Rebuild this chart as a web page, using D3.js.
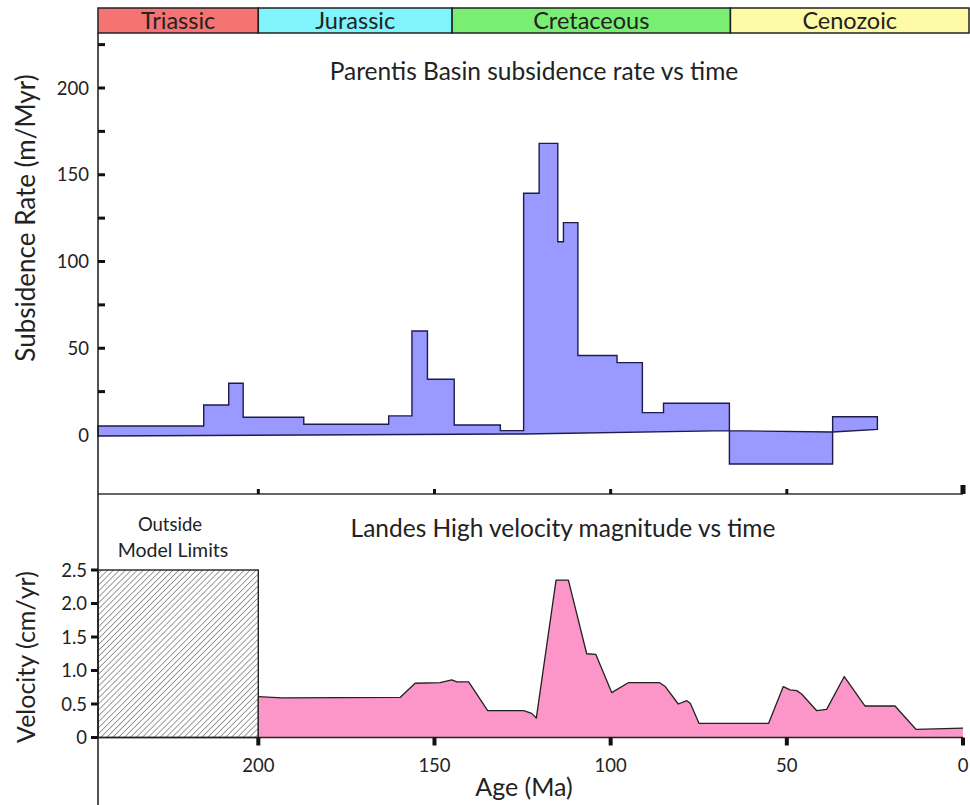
<!DOCTYPE html>
<html>
<head>
<meta charset="utf-8">
<script src="https://cdn.jsdelivr.net/npm/d3@7/dist/d3.min.js"></script>
<style>
  html, body { margin: 0; padding: 0; background: #fff; }
  svg { display: block; }
  text { font-family: Lato, "Open Sans", sans-serif; fill: #222; }
</style>
</head>
<body>
<svg id="chart" width="970" height="805"></svg>
<script>
// Geological periods across the top band (start age, end age in Ma)
const periodNames = ["Triassic", "Jurassic", "Cretaceous", "Cenozoic"];
const periodStart = [245.5, 200, 145, 66];
const periodEnd   = [200, 145, 66, 0];
const periodColors = ["#f57373", "#80f4fb", "#79ee73", "#fdfba6"];

// Parentis Basin subsidence rate (m/Myr): step boundaries (Ma) and rate of each step
const subsidenceEdges = [245.5, 215.5, 208.4, 204.3, 187.1, 163.0, 156.4, 152.0, 144.4,
                         131.3, 124.7, 120.3, 115.0, 113.4, 109.3, 98.2, 91.0, 85.0, 66.3, 37.0, 24.3];
const subsidenceRates = [5.2, 17.3, 29.8, 10.2, 6.2, 11.0, 59.9, 32.1, 5.8,
                         2.5, 139.3, 168.1, 111.4, 122.4, 45.8, 41.7, 12.9, 18.3, -16.7, 10.5];
// Reference (zero) line the rate steps are filled against
const zeroLineAges   = [245.5, 124.7, 66.3, 37.0, 24.3];
const zeroLineValues = [-0.6, 0.6, 2.5, 1.7, 3.2];

// Landes High velocity magnitude (cm/yr)
const velocityAges = [200, 193.3, 159.7, 155.5, 148.4, 145.1, 143.6, 140.3, 134.9, 124.7,
                      122.4, 121.1, 115.5, 112.0, 106.8, 104.2, 99.7, 94.9, 86.2, 84.5,
                      80.8, 78.4, 77.4, 74.9, 55.2, 51.0, 49.1, 47.2, 45.8, 41.5,
                      38.7, 33.7, 27.8, 19.3, 13.3, 0];
const velocityValues = [0.61, 0.59, 0.60, 0.81, 0.82, 0.86, 0.83, 0.83, 0.40, 0.40,
                        0.36, 0.29, 2.35, 2.35, 1.25, 1.24, 0.67, 0.82, 0.82, 0.76,
                        0.50, 0.55, 0.51, 0.21, 0.21, 0.76, 0.71, 0.70, 0.65, 0.40,
                        0.42, 0.91, 0.47, 0.47, 0.12, 0.14];

// Axis ticks
const ageTicks = [200, 150, 100, 50, 0];
const rateTickLabels = [0, 50, 100, 150, 200];
const rateTickMarks = [25, 50, 75, 100, 125, 150, 175, 200, 225];
const velocityTicks = [0, 0.5, 1.0, 1.5, 2.0, 2.5];
const modelLimitAge = 200;

const svg = d3.select("#chart");

const x = d3.scaleLinear().domain([245.5, 0]).range([98, 963]);
const yRate = d3.scaleLinear().domain([0, 200]).range([435, 88]);
const yVel = d3.scaleLinear().domain([0, 2.5]).range([737.5, 570]);

const axisColor = "#1a1a1a";
const xLeft = x.range()[0], xRight = x.range()[1];

// ---------- period band ----------
const bandTop = 8, bandBottom = 33;
const band = svg.append("g");
periodNames.forEach((name, i) => {
  const x0 = x(periodStart[i]);
  const x1 = i === periodNames.length - 1 ? xRight + 6 : x(periodEnd[i]);
  band.append("rect")
    .attr("x", x0).attr("y", bandTop)
    .attr("width", x1 - x0).attr("height", bandBottom - bandTop)
    .attr("fill", periodColors[i])
    .attr("stroke", "#222").attr("stroke-width", 1.5);
  band.append("text")
    .attr("x", (x0 + x1) / 2).attr("y", 28.5)
    .attr("text-anchor", "middle")
    .attr("font-size", 23.5)
    .text(name);
});

// ---------- upper panel: subsidence rate ----------
const upper = svg.append("g");

const stepPts = [];
subsidenceRates.forEach((v, i) => {
  stepPts.push([x(subsidenceEdges[i]), yRate(v)]);
  stepPts.push([x(subsidenceEdges[i + 1]), yRate(v)]);
});
const basePts = zeroLineAges.map((a, i) => [x(a), yRate(zeroLineValues[i])]).reverse();
const polyPts = stepPts.concat(basePts);

upper.append("path")
  .attr("d", d3.line().curve(d3.curveLinearClosed)(polyPts))
  .attr("fill", "#9999ff")
  .attr("fill-rule", "nonzero")
  .attr("stroke", "#1d1d4d")
  .attr("stroke-width", 1.4)
  .attr("stroke-linejoin", "miter");

// bottom frame line of the upper panel with inward ticks
const upperBase = 494;
upper.append("line")
  .attr("x1", xLeft).attr("x2", xRight)
  .attr("y1", upperBase).attr("y2", upperBase)
  .attr("stroke", "#333").attr("stroke-width", 1.5);
ageTicks.forEach(t => {
  const big = t === 0;
  upper.append("rect")
    .attr("x", x(t) - (big ? 2.5 : 1.5))
    .attr("y", upperBase - (big ? 9 : 5))
    .attr("width", big ? 5 : 3)
    .attr("height", big ? 9 : 5)
    .attr("fill", "#111");
});

// rate axis ticks and labels
rateTickMarks.forEach(t => {
  upper.append("rect")
    .attr("x", xLeft).attr("y", yRate(t) - 1.5)
    .attr("width", 7).attr("height", 3)
    .attr("fill", "#111");
});
rateTickLabels.forEach(t => {
  upper.append("text")
    .attr("x", 89).attr("y", yRate(t) + 6.5)
    .attr("text-anchor", "end")
    .attr("font-size", 18.5)
    .attr("fill", "#333")
    .text(t);
});

upper.append("text")
  .attr("x", 534).attr("y", 80)
  .attr("text-anchor", "middle")
  .attr("font-size", 24.5)
  .text("Parentis Basin subsidence rate vs time");

upper.append("text")
  .attr("transform", "translate(35,218) rotate(-90)")
  .attr("text-anchor", "middle")
  .attr("font-size", 26)
  .text("Subsidence Rate (m/Myr)");

// ---------- lower panel: velocity magnitude ----------
const lower = svg.append("g");

// hatched region before the model start
const defs = svg.append("defs");
const pat = defs.append("pattern")
  .attr("id", "hatch")
  .attr("patternUnits", "userSpaceOnUse")
  .attr("width", 4.2).attr("height", 4.2)
  .attr("patternTransform", "rotate(45)");
pat.append("rect").attr("width", 4.2).attr("height", 4.2).attr("fill", "#fff");
pat.append("line")
  .attr("x1", 0).attr("y1", 0).attr("x2", 0).attr("y2", 4.2)
  .attr("stroke", "#3a3a3a").attr("stroke-width", 1);

lower.append("rect")
  .attr("x", x(x.domain()[0]))
  .attr("y", yVel(2.5))
  .attr("width", x(modelLimitAge) - x(x.domain()[0]))
  .attr("height", yVel(0) - yVel(2.5))
  .attr("fill", "url(#hatch)")
  .attr("stroke", "#222").attr("stroke-width", 1.4);

const velData = velocityAges.map((a, i) => ({ age: a, v: velocityValues[i] }));
lower.append("path")
  .datum(velData)
  .attr("d", d3.area().x(d => x(d.age)).y0(yVel(0)).y1(d => yVel(d.v)))
  .attr("fill", "#fc96c8");
lower.append("path")
  .datum(velData)
  .attr("d", d3.line().x(d => x(d.age)).y(d => yVel(d.v)))
  .attr("fill", "none")
  .attr("stroke", "#222")
  .attr("stroke-width", 1.3)
  .attr("stroke-linejoin", "round");
lower.append("line")
  .attr("x1", x(modelLimitAge)).attr("x2", x(modelLimitAge))
  .attr("y1", yVel(velocityValues[0])).attr("y2", yVel(0))
  .attr("stroke", "#222").attr("stroke-width", 1.2);

// velocity x-axis
lower.append("line")
  .attr("x1", xLeft).attr("x2", xRight)
  .attr("y1", yVel(0)).attr("y2", yVel(0))
  .attr("stroke", "#222").attr("stroke-width", 1.3);
ageTicks.forEach(t => {
  lower.append("rect")
    .attr("x", x(t) - 2).attr("y", yVel(0))
    .attr("width", 4).attr("height", 8)
    .attr("fill", "#111");
  lower.append("text")
    .attr("x", x(t)).attr("y", 772)
    .attr("text-anchor", "middle")
    .attr("font-size", 18.5)
    .attr("fill", "#333")
    .text(t);
});

// velocity y-axis ticks and labels
velocityTicks.forEach(t => {
  lower.append("rect")
    .attr("x", xLeft - 7).attr("y", yVel(t) - 1.5)
    .attr("width", 7).attr("height", 3)
    .attr("fill", "#111");
  lower.append("text")
    .attr("x", 87).attr("y", yVel(t) + 6.5)
    .attr("text-anchor", "end")
    .attr("font-size", 18.5)
    .attr("fill", "#333")
    .text(t === 0 ? "0" : t.toFixed(1));
});

lower.append("text")
  .attr("x", 563).attr("y", 537)
  .attr("text-anchor", "middle")
  .attr("font-size", 24.5)
  .text("Landes High velocity magnitude vs time");

lower.append("text")
  .attr("x", 170).attr("y", 531)
  .attr("text-anchor", "middle")
  .attr("font-size", 18.5)
  .text("Outside");
lower.append("text")
  .attr("x", 173).attr("y", 557)
  .attr("text-anchor", "middle")
  .attr("font-size", 19.5)
  .text("Model Limits");

lower.append("text")
  .attr("transform", "translate(35,657) rotate(-90)")
  .attr("text-anchor", "middle")
  .attr("font-size", 25)
  .text("Velocity (cm/yr)");

lower.append("text")
  .attr("x", 524).attr("y", 796)
  .attr("text-anchor", "middle")
  .attr("font-size", 25)
  .text("Age (Ma)");

// left frame line spanning both panels
svg.append("line")
  .attr("x1", xLeft).attr("x2", xLeft)
  .attr("y1", bandBottom).attr("y2", 805)
  .attr("stroke", axisColor).attr("stroke-width", 1.5);
</script>
</body>
</html>
